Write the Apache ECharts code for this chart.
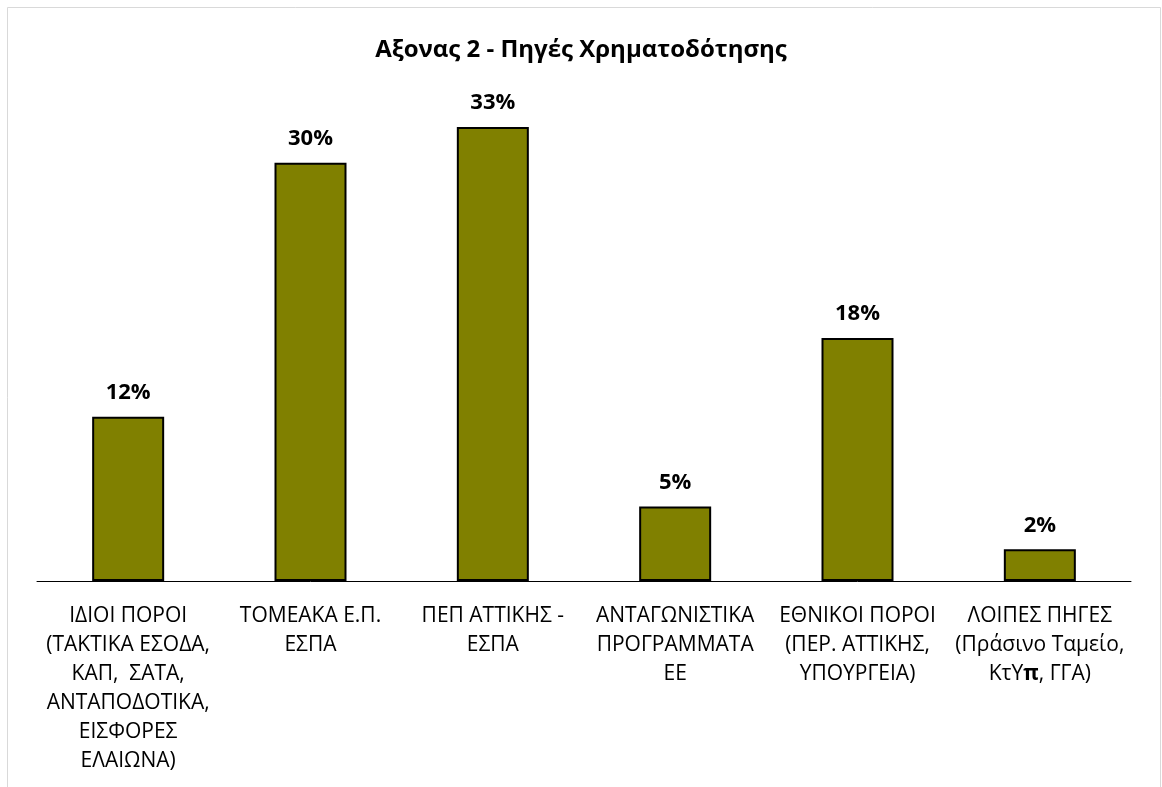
<!DOCTYPE html>
<html><head><meta charset="utf-8">
<script src="https://cdn.jsdelivr.net/npm/echarts@6/dist/echarts.min.js"></script>
<style>html,body{margin:0;padding:0;background:#fff}#c{width:1162px;height:787px}</style>
</head><body><div id="c"></div>
<script>
const title = 'Αξονας 2 - Πηγές Χρηματοδότησης';
const categories = [
  'ΙΔΙΟΙ ΠΟΡΟΙ\n(ΤΑΚΤΙΚΑ ΕΣΟΔΑ,\nΚΑΠ,  ΣΑΤΑ,\nΑΝΤΑΠΟΔΟΤΙΚΑ,\nΕΙΣΦΟΡΕΣ\nΕΛΑΙΩΝΑ)',
  'ΤΟΜΕΑΚΑ Ε.Π.\nΕΣΠΑ',
  'ΠΕΠ ΑΤΤΙΚΗΣ -\nΕΣΠΑ',
  'ΑΝΤΑΓΩΝΙΣΤΙΚΑ\nΠΡΟΓΡΑΜΜΑΤΑ\nΕΕ',
  'ΕΘΝΙΚΟΙ ΠΟΡΟΙ\n(ΠΕΡ. ΑΤΤΙΚΗΣ,\nΥΠΟΥΡΓΕΙΑ)',
  'ΛΟΙΠΕΣ ΠΗΓΕΣ\n(Πράσινο Ταμείο,\nΚτΥ{b|π}, ΓΓΑ)'
];
const values = [11.9, 30.3, 32.9, 5.4, 17.6, 2.3];
const labels = ['12%', '30%', '33%', '5%', '18%', '2%'];

const chart = echarts.init(document.getElementById('c'));
const font = '"Open Sans", "Noto Sans", sans-serif';
chart.setOption({
  backgroundColor: '#fff',
  animation: false,
  title: {
    text: title, left: 'center', top: 33,
    textStyle: {fontFamily: font, fontSize: 24, fontWeight: 'bold', color: '#000'}
  },
  graphic: [{
    type: 'rect', shape: {x: 7.5, y: 7.5, width: 1153, height: 790},
    style: {fill: 'none', stroke: '#d9d9d9', lineWidth: 1}, silent: true
  }],
  grid: {left: 37, right: 31, top: 98, bottom: 206, containLabel: false},
  xAxis: {
    type: 'category', data: categories,
    axisLine: {lineStyle: {color: '#000', width: 1}},
    axisTick: {show: false},
    axisLabel: {
      interval: 0, margin: 21, fontFamily: font, fontSize: 21, color: '#000', lineHeight: 29,
      rich: {b: {fontFamily: font, fontSize: 21, fontWeight: 'bold', color: '#000', lineHeight: 29}}
    }
  },
  yAxis: {type: 'value', min: 0, max: 35, show: false, splitLine: {show: false}},
  series: [{
    type: 'bar', data: values, barWidth: 72,
    itemStyle: {color: '#808000', borderColor: '#000', borderWidth: 2},
    label: {
      show: true, position: 'top', distance: 13,
      formatter: p => labels[p.dataIndex],
      fontFamily: font, fontSize: 22, fontWeight: 'bold', color: '#000'
    }
  }]
});
</script></body></html>
